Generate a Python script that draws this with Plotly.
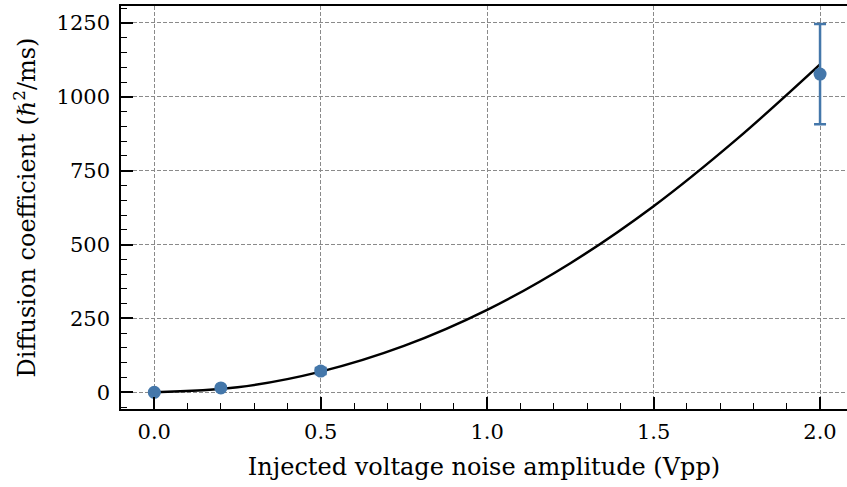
import plotly.graph_objects as go

# measured points
noise_vpp = [0.0, 0.2, 0.5, 2.0]
diffusion = [0, 15, 72, 1077]
diffusion_err = [2, 4, 10, 170]

# fit curve
fit_x = [0.0, 0.25, 0.5, 0.75, 1.0, 1.25, 1.5, 1.75, 2.0]
fit_y = [0, 17, 70, 157, 279, 437, 630, 857, 1110]

x_ticks = [0.0, 0.5, 1.0, 1.5, 2.0]
y_ticks = [0, 250, 500, 750, 1000, 1250]

blue = '#4477AA'
font = 'DejaVu Serif, serif'

fit = go.Scatter(x=fit_x, y=fit_y, mode='lines', line=dict(color='black', width=2.5, shape='spline'),
                 showlegend=False, hoverinfo='skip')

pts = go.Scatter(x=noise_vpp, y=diffusion, mode='markers',
                 marker=dict(color=blue, size=13),
                 error_y=dict(type='data', array=diffusion_err, color=blue, thickness=2.5, width=6),
                 showlegend=False)

axis_common = dict(showline=True, linecolor='black', linewidth=1.5,
                   ticks='inside', ticklen=12, tickwidth=1.5, tickcolor='black',
                   showgrid=True, gridcolor='#8a8a8a', griddash='4px,2px', gridwidth=1,
                   zeroline=False, tickfont=dict(size=21, color='black', family=font))

layout = go.Layout(
    width=847, height=487,
    margin=dict(l=121, r=0, t=6, b=78),
    plot_bgcolor='white', paper_bgcolor='white',
    font=dict(family=font, color='black'),
    xaxis=dict(axis_common, range=[-0.1, 2.081], tickvals=x_ticks,
               ticktext=['%.1f' % v for v in x_ticks], mirror=True, ticklabelstandoff=3,
               title=dict(text='Injected voltage noise amplitude (Vpp)', standoff=15,
                          font=dict(size=24, color='black', family=font)),
               minor=dict(dtick=0.1, tick0=0, ticks='inside', ticklen=6, tickwidth=1.2,
                          tickcolor='black', showgrid=False)),
    yaxis=dict(axis_common, range=[-56.5, 1307.5], tickvals=y_ticks, ticklabelstandoff=5,
               title=dict(text='Diffusion coefficient (<i>ℏ</i><sup>2</sup>/ms)', standoff=14,
                          font=dict(size=24, color='black', family=font)),
               minor=dict(dtick=50, tick0=0, ticks='inside', ticklen=6, tickwidth=1.2,
                          tickcolor='black', showgrid=False)),
)

fig = go.Figure(data=[fit, pts], layout=layout)
fig.write_html('out.html', config={'displayModeBar': False},
               post_script="document.body.style.margin='0';")
